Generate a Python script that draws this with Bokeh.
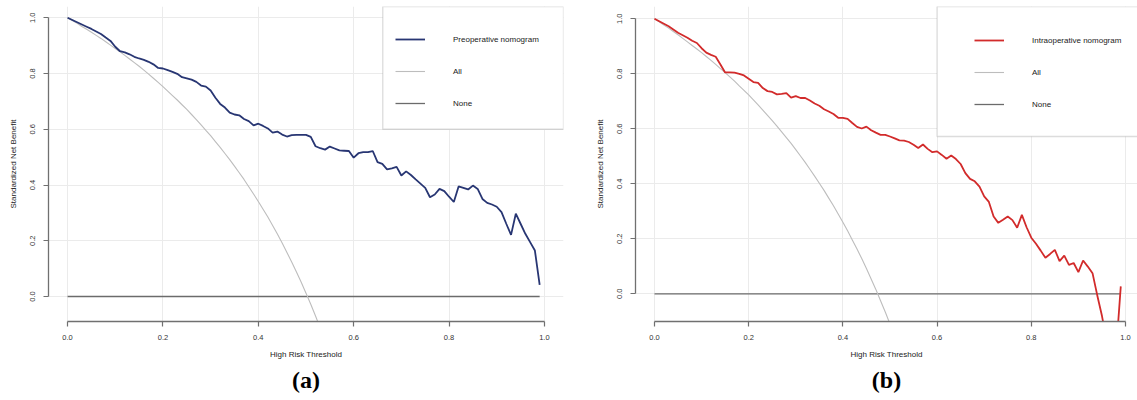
from bokeh.plotting import figure
from bokeh.layouts import row
from bokeh.models import (Range1d, FixedTicker, PrintfTickFormatter, Legend,
                          LegendItem, BoxAnnotation, Title)
from bokeh.embed import file_html
from bokeh.resources import INLINE

# ---- decision-curve data -------------------------------------------------
thresholds = [i / 100 for i in range(100)]          # 0.00 ... 0.99

preop_nb = [
    1.000, 0.992, 0.984, 0.976, 0.968, 0.960, 0.951, 0.942, 0.929, 0.917,
    0.896, 0.880, 0.876, 0.869, 0.860, 0.854, 0.849, 0.842, 0.833, 0.820,
    0.818, 0.812, 0.806, 0.799, 0.787, 0.783, 0.778, 0.770, 0.757, 0.753,
    0.739, 0.713, 0.691, 0.678, 0.660, 0.653, 0.650, 0.637, 0.629, 0.614,
    0.620, 0.612, 0.603, 0.588, 0.592, 0.581, 0.574, 0.579, 0.580, 0.580,
    0.580, 0.573, 0.539, 0.532, 0.527, 0.538, 0.531, 0.524, 0.523, 0.522,
    0.498, 0.514, 0.518, 0.518, 0.522, 0.482, 0.476, 0.456, 0.460, 0.465,
    0.434, 0.449, 0.436, 0.420, 0.405, 0.390, 0.356, 0.366, 0.386, 0.378,
    0.358, 0.339, 0.395, 0.390, 0.384, 0.398, 0.386, 0.350, 0.336, 0.330,
    0.322, 0.303, 0.261, 0.221, 0.297, 0.261, 0.225, 0.195, 0.165, 0.042,
]

intraop_nb = [
    1.000, 0.991, 0.982, 0.973, 0.961, 0.949, 0.940, 0.931, 0.920, 0.912,
    0.893, 0.877, 0.869, 0.862, 0.834, 0.805, 0.805, 0.804, 0.800, 0.794,
    0.782, 0.770, 0.767, 0.748, 0.737, 0.734, 0.725, 0.727, 0.730, 0.713,
    0.719, 0.712, 0.712, 0.703, 0.692, 0.684, 0.671, 0.663, 0.654, 0.640,
    0.640, 0.636, 0.621, 0.607, 0.601, 0.608, 0.595, 0.586, 0.578, 0.578,
    0.572, 0.565, 0.558, 0.557, 0.552, 0.542, 0.530, 0.543, 0.527, 0.515,
    0.518, 0.505, 0.491, 0.503, 0.490, 0.472, 0.439, 0.418, 0.409, 0.390,
    0.354, 0.334, 0.281, 0.258, 0.269, 0.281, 0.268, 0.240, 0.287, 0.242,
    0.204, 0.182, 0.157, 0.131, 0.145, 0.160, 0.119, 0.139, 0.105, 0.112,
    0.079, 0.121, 0.099, 0.075, -0.005, -0.080, -0.170, -0.250, -0.210, 0.027,
]

# "treat all" reference curves
all_thr_a = [i / 100 for i in range(54)]
all_nb_a = [
    1.000, 0.990, 0.980, 0.969, 0.959, 0.948, 0.937, 0.926, 0.914, 0.902,
    0.890, 0.878, 0.865, 0.852, 0.839, 0.826, 0.812, 0.798, 0.783, 0.768,
    0.753, 0.737, 0.721, 0.705, 0.688, 0.671, 0.653, 0.635, 0.616, 0.596,
    0.577, 0.556, 0.535, 0.513, 0.491, 0.468, 0.444, 0.420, 0.394, 0.368,
    0.341, 0.313, 0.285, 0.255, 0.224, 0.192, 0.158, 0.124, 0.088, 0.051,
    0.012, -0.028, -0.070, -0.114,
]

all_thr_b = [i / 100 for i in range(51)]
all_nb_b = [
    1.000, 0.989, 0.977, 0.966, 0.954, 0.942, 0.929, 0.916, 0.903, 0.890,
    0.877, 0.863, 0.849, 0.834, 0.819, 0.804, 0.789, 0.773, 0.756, 0.740,
    0.723, 0.705, 0.687, 0.668, 0.649, 0.630, 0.610, 0.589, 0.568, 0.547,
    0.524, 0.501, 0.478, 0.453, 0.428, 0.402, 0.376, 0.348, 0.320, 0.290,
    0.260, 0.229, 0.196, 0.163, 0.128, 0.092, 0.054, 0.016, -0.025, -0.066,
    -0.110,
]

# "treat none" reference
none_thr = [0.0, 0.99]
none_nb = [0.0, 0.0]

tick_values = [0.0, 0.2, 0.4, 0.6, 0.8, 1.0]

SANS = "Liberation Sans"
AXIS_GREY = "#707070"


def panel(model_nb, all_x, all_y, color, label, tag, width,
          borders, x_rng, y_rng, legend_loc, box, tag_offset):
    bl, br, bt, bb = borders
    p = figure(width=width, height=400,
               x_range=Range1d(*x_rng), y_range=Range1d(*y_rng),
               output_backend="svg", toolbar_location=None,
               min_border_left=bl, min_border_right=br,
               min_border_top=bt, min_border_bottom=bb)
    p.outline_line_color = None
    p.background_fill_color = "white"
    p.border_fill_color = "white"

    for g in (p.xgrid[0], p.ygrid[0]):
        g.ticker = FixedTicker(ticks=tick_values)
        g.grid_line_color = "#ebebeb"
        g.grid_line_width = 1

    for ax in (p.xaxis[0], p.yaxis[0]):
        ax.ticker = FixedTicker(ticks=tick_values, minor_ticks=[])
        ax.formatter = PrintfTickFormatter(format="%.1f")
        ax.bounds = (0, 1)
        ax.axis_line_color = AXIS_GREY
        ax.axis_line_width = 1.3
        ax.major_tick_line_color = AXIS_GREY
        ax.major_tick_line_width = 1.2
        ax.major_tick_in = 0
        ax.major_tick_out = 5
        ax.minor_tick_line_color = None
        ax.major_label_text_font = SANS
        ax.major_label_text_font_size = "7.5px"
        ax.major_label_text_color = "#333333"
        ax.major_label_standoff = 8
        ax.axis_label_text_font = SANS
        ax.axis_label_text_font_size = "8px"
        ax.axis_label_text_font_style = "normal"
        ax.axis_label_text_color = "#222222"

    p.xaxis.axis_label = "High Risk Threshold"
    p.yaxis.axis_label = "Standardized Net Benefit"
    p.xaxis.axis_label_standoff = 7
    p.yaxis.axis_label_standoff = 10
    p.yaxis.major_label_orientation = "vertical"

    r_none = p.line(none_thr, none_nb, line_color="#6b6b6b", line_width=1.3)
    r_all = p.line(all_x, all_y, line_color="#bdbdbd", line_width=1.1)
    r_model = p.line(thresholds, model_nb, line_color=color, line_width=1.8)

    # legend frame with white fill, then the legend entries on top of it
    bx_left, bx_right, bx_bottom = box
    frame = BoxAnnotation(left=bx_left, right=bx_right, bottom=bx_bottom,
                          top=y_rng[1], fill_color="white", fill_alpha=1.0,
                          line_color="#8c8c8c", line_width=1.3)
    p.add_layout(frame)

    legend = Legend(
        items=[LegendItem(label=label, renderers=[r_model]),
               LegendItem(label="All", renderers=[r_all]),
               LegendItem(label="None", renderers=[r_none])],
        location=legend_loc, orientation="vertical",
        padding=0, spacing=12, margin=0,
        glyph_width=30, glyph_height=20, label_height=20,
        label_standoff=28,
        border_line_alpha=0, background_fill_alpha=0,
        label_text_font=SANS, label_text_font_size="8px",
        label_text_color="#222222")
    p.add_layout(legend)

    # panel tag under the x-axis title
    p.add_layout(Title(text=tag, align="center", offset=tag_offset,
                       text_font="Liberation Serif", text_font_size="24px",
                       text_font_style="bold", text_color="black",
                       standoff=6), "below")
    return p


left = panel(preop_nb, all_thr_a, all_nb_a, "#283673",
             "Preoperative nomogram", "(a)", 580,
             (48, 17, 6, 79), (-0.04, 1.04), (-0.0897, 1.0405),
             (347, 208), (0.661, 1.04, 0.600), -2)

right = panel(intraop_nb, all_thr_b, all_nb_b, "#d22b2b",
              "Intraoperative nomogram", "(b)", 557,
              (55, 0, 6, 79), (-0.0403, 1.0255), (-0.1007, 1.0447),
              (339, 207), (0.600, 1.12, 0.572), 4)

layout = row(left, right, spacing=0)

open("out.html", "w").write(file_html(layout, INLINE))
